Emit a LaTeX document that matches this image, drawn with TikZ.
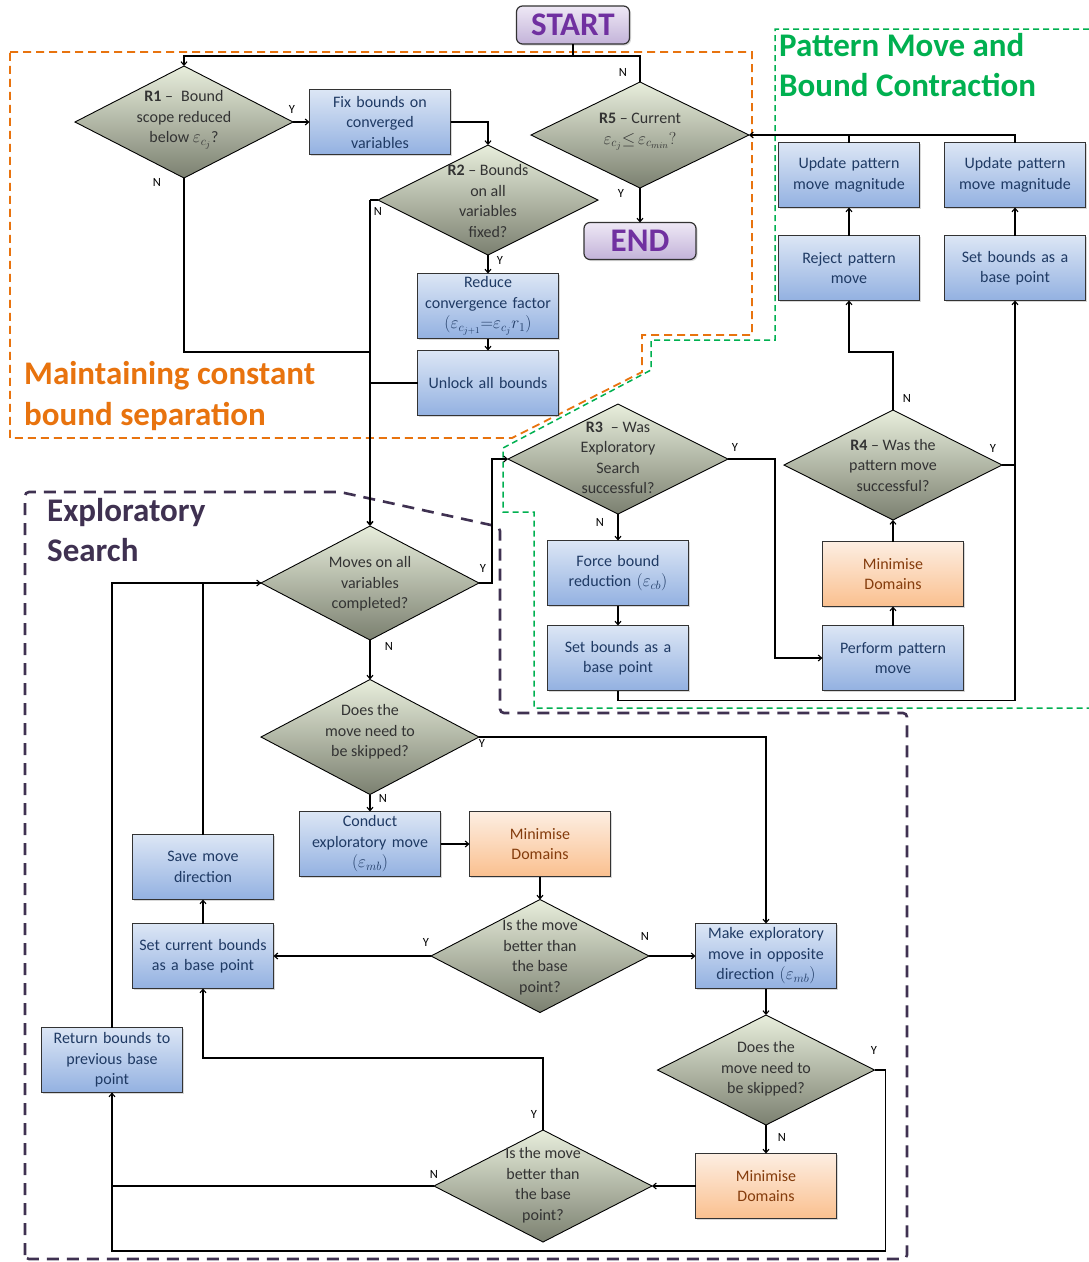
\documentclass[tikz,border=0pt]{standalone}
\usepackage{fontspec}
\setmainfont{Carlito}
\usetikzlibrary{shapes.geometric,arrows.meta,shadows}

\definecolor{boxtop}{HTML}{DCE6F5}
\definecolor{boxbot}{HTML}{93B1E1}
\definecolor{boxtxt}{HTML}{1F3A64}
\definecolor{dtop}{HTML}{E8EEDC}
\definecolor{dbot}{HTML}{7B8070}
\definecolor{dtxt}{HTML}{333333}
\definecolor{otop}{HTML}{FDEEE2}
\definecolor{obot}{HTML}{FAC08F}
\definecolor{otxt}{HTML}{843C0C}
\definecolor{ptop}{HTML}{EEE8F5}
\definecolor{pbot}{HTML}{C3B3D9}
\definecolor{ptxt}{HTML}{7030A0}
\definecolor{orng}{HTML}{E8730E}
\definecolor{grn}{HTML}{00B050}
\definecolor{purp}{HTML}{3F3151}
\definecolor{edgec}{HTML}{333333}

% inline formulas set a little larger than the surrounding text
\newcommand\fml[1]{{\fontsize{18.5}{20.5}\selectfont$#1$}}

\pgfdeclarelayer{bg}
\pgfsetlayers{bg,main}

\begin{document}
\begin{tikzpicture}[x=1pt,y=-1pt,
  bodyfont/.style={font=\fontsize{16}{20.5}\selectfont},
  procbox/.style={draw=edgec,line width=1.1pt,top color=boxtop,bottom color=boxbot,
     minimum width=141pt,minimum height=65pt,inner sep=0pt,outer sep=0pt,
     text width=139pt,align=center,text=boxtxt,bodyfont,
     drop shadow={shadow xshift=1.5pt,shadow yshift=-1.5pt,opacity=0.3}},
  minbox/.style={procbox,top color=otop,bottom color=obot,text=otxt},
  decision/.style={diamond,draw=black,line width=0.9pt,top color=dtop,bottom color=dbot,
     minimum width=218pt,minimum height=112pt,inner sep=0pt,outer sep=0pt},
  dtext/.style={align=center,bodyfont,text=dtxt,inner sep=0pt},
  term/.style={rounded corners=6pt,draw=edgec,line width=1.2pt,top color=ptop,bottom color=pbot,
     text=ptxt,font=\fontsize{33}{36}\selectfont\bfseries,minimum width=113pt,
     minimum height=38pt,inner sep=0pt,outer sep=0pt,
     drop shadow={shadow xshift=1.5pt,shadow yshift=-1.5pt,opacity=0.3}},
  yn/.style={font=\fontsize{12.5}{12.5}\selectfont,inner sep=0pt},
  conn/.style={line width=1.1pt,black},
  arr/.style={conn,-{Straight Barb[length=3.5pt,width=6pt]}},
  region/.style={font=\fontsize{33}{40.5}\selectfont\bfseries,align=left,anchor=west,inner sep=0pt},
  frameO/.style={orng,line width=1.8pt,dash pattern=on 8pt off 5pt},
  frameG/.style={grn,line width=1.5pt,dash pattern=on 6pt off 4pt},
  frameP/.style={purp,line width=2.6pt,dash pattern=on 12pt off 8pt,rounded corners=4pt},
]
\useasboundingbox (0,0) rectangle (1089,1262);

% ---- terminals ----
\node[term] (start) at (573,25) {START};
\node[term,minimum width=112pt,minimum height=37pt] (end) at (640,241) {END};

% ---- decisions ----
\node[decision] (r1) at (184,122) {};
\node[dtext] (r1t) at (184,120) {\textbf{R1} --\enspace Bound\\scope reduced\\below \fml{\varepsilon_{c_j}}?};
\node[decision,minimum width=220pt,minimum height=110pt] (r2) at (488,200) {};
\node[dtext] (r2t) at (488,201) {\textbf{R2} -- Bounds\\on all\\variables\\fixed?};
\node[decision,minimum height=106pt] (r5) at (640,135) {};
\node[dtext] (r5t) at (640,132) {\textbf{R5} -- Current\\\fml{\varepsilon_{c_j}{\le}\,\varepsilon_{c_{min}}?}};
\node[decision,minimum width=220pt,minimum height=110pt] (r3) at (618,459) {};
\node[dtext] (r3t) at (618,458) {\textbf{R3}\enspace -- Was\\Exploratory\\Search\\successful?};
\node[decision,minimum height=110pt] (r4) at (893,465) {};
\node[dtext] (r4t) at (893,465) {\textbf{R4} -- Was the\\pattern move\\successful?};
\node[decision,minimum height=114pt] (moves) at (370,583) {};
\node[dtext] (movest) at (370,584) {Moves on all\\variables\\completed?};
\node[decision,minimum height=115pt] (skip1) at (370,737) {};
\node[dtext] (skip1t) at (370,732) {Does the\\move need to\\be skipped?};
\node[decision,minimum height=113pt] (better1) at (540,956) {};
\node[dtext] (better1t) at (540,957) {Is the move\\better than\\the base\\point?};
\node[decision,minimum width=217pt,minimum height=110pt] (skip2) at (766,1070) {};
\node[dtext] (skip2t) at (766,1069) {Does the\\move need to\\be skipped?};
\node[decision] (better2) at (543,1186) {};
\node[dtext] (better2t) at (543,1185) {Is the move\\better than\\the base\\point?};

% ---- process boxes ----
\node[procbox] (fix) at (380,122) {Fix bounds on\\converged\\variables};
\node[procbox] (reduce) at (488,306) {Reduce\\convergence factor\\\fml{(\varepsilon_{c_{j+1}}{=}\varepsilon_{c_j}r_1)}};
\node[procbox] (unlock) at (488,383) {Unlock all bounds};
\node[procbox] (upd1) at (849,175) {Update pattern\\move magnitude};
\node[procbox] (upd2) at (1015,175) {Update pattern\\move magnitude};
\node[procbox] (reject) at (849,268) {Reject pattern\\move};
\node[procbox] (setb1) at (1015,268) {Set bounds as a\\base point};
\node[procbox] (force) at (618,573) {Force bound\\reduction \fml{(\varepsilon_{cb})}};
\node[procbox] (setb2) at (618,658) {Set bounds as a\\base point};
\node[minbox] (min1) at (893,574) {Minimise\\Domains};
\node[procbox] (perform) at (893,658) {Perform pattern\\move};
\node[procbox] (conduct) at (370,844) {Conduct\\exploratory move\\\fml{(\varepsilon_{mb})}};
\node[minbox] (min2) at (540,844) {Minimise\\Domains};
\node[procbox] (save) at (203,867) {Save move\\direction};
\node[procbox] (setcur) at (203,956) {Set current bounds\\as a base point};
\node[procbox] (make) at (766,956) {Make exploratory\\move in opposite\\direction \fml{(\varepsilon_{mb})}};
\node[procbox] (ret) at (112,1060) {Return bounds to\\previous base\\point};
\node[minbox] (min3) at (766,1186) {Minimise\\Domains};

% ---- region titles ----
\node[region,text=orng] (titleA) at (24,396) {Maintaining constant\\bound separation};
\node[region,text=grn] (titleB) at (779,65) {Pattern Move and\\Bound Contraction};
\node[region,text=purp] (titleC) at (47,530) {Exploratory\\Search};

% ---- connectors ----
\coordinate (bus) at (573,56);
\coordinate (trunk) at (370,200);
\coordinate (j1) at (370,352);
\draw[conn] (start.south) -- (bus);
\draw[arr] (r5.north) |- (bus) -| (r1.north);
\draw[arr] (r1.east) -- (fix.west);
\draw[arr] (fix.east) -| (r2.north);
\draw[arr] (r2.south) -- (reduce.north);
\draw[arr] (reduce.south) -- (unlock.north);
\draw[conn] (r2.west) -- (trunk);
\draw[arr,line width=1.5pt] (trunk) -- (moves.north);
\draw[conn] (r1.south) |- (j1);
\draw[conn] (unlock.west) -- (unlock.west -| trunk);
\draw[arr] (r5.south) -- (end.north);

\draw[arr] (upd2.north) |- (r5.east);
\draw[conn] (upd1.north) -- (upd1.north |- r5.east);
\draw[arr] (reject.north) -- (upd1.south);
\draw[arr] (setb1.north) -- (upd2.south);
\draw[arr] (r4.north) -- ++(0,-58) -| (reject.south);
\draw[arr] (r4.east) -| (setb1.south);
\draw[conn] (setb2.south) -- ++(0,10) -| (r4.east -| setb1.south);
\draw[arr] (min1.north) -- (r4.south);
\draw[arr] (perform.north) -- (min1.south);
\draw[arr] (r3.east) -- ++(47,0) |- (perform.west);
\draw[arr] (r3.south) -- (force.north);
\draw[arr] (force.south) -- (setb2.north);

\draw[arr] (moves.east) -- ++(13,0) |- (r3.west);
\draw[arr] (moves.south) -- (skip1.north);
\draw[arr] (skip1.south) -- (conduct.north);
\draw[arr] (skip1.east) -| (make.north);
\draw[arr] (conduct.east) -- (min2.west);
\draw[arr] (min2.south) -- (better1.north);
\draw[arr] (better1.west) -- (setcur.east);
\draw[arr] (better1.east) -- (make.west);
\draw[arr] (setcur.north) -- (save.south);
\draw[arr] (save.north) |- (moves.west);
\draw[conn] (ret.north) |- (moves.west);
\draw[arr] (make.south) -- (skip2.north);
\draw[arr] (skip2.south) -- (min3.north);
\draw[arr] (skip2.east) -- ++(11,0) -- ++(0,181) -| (ret.south);
\draw[arr] (min3.west) -- (better2.east);
\draw[arr] (better2.north) -- ++(0,-72) -| (setcur.south);
\draw[conn] (better2.west) -| (ret.south);

% ---- Y / N labels ----
\node[yn] (n1) at (623,72) {N};
\node[yn] (n2) at (292,109) {Y};
\node[yn] (n3) at (157,182) {N};
\node[yn] (n4) at (378,211) {N};
\node[yn] (n5) at (500,260) {Y};
\node[yn] (n6) at (621,193) {Y};
\node[yn] (n7) at (907,398) {N};
\node[yn] (n8) at (993,448) {Y};
\node[yn] (n9) at (735,447) {Y};
\node[yn] (n10) at (600,522) {N};
\node[yn] (n11) at (483,568) {Y};
\node[yn] (n12) at (389,646) {N};
\node[yn] (n13) at (482,743) {Y};
\node[yn] (n14) at (383,798) {N};
\node[yn] (n15) at (426,942) {Y};
\node[yn] (n16) at (645,936) {N};
\node[yn] (n17) at (874,1050) {Y};
\node[yn] (n18) at (782,1137) {N};
\node[yn] (n19) at (534,1114) {Y};
\node[yn] (n20) at (434,1174) {N};

% ---- white page and dashed group frames, behind everything ----
\begin{pgfonlayer}{bg}
\fill[white] (0,0) rectangle (1089,1262);
\draw[frameO]
  (10,52) -- (752,52) -- (752,335) -- (642,335) -- (642,372) -- (512,438) -- (10,438) -- cycle;
\draw[frameG]
  (1089,29) -- (775,29) -- (775,340) -- (651,340) -- (651,370) -- (503,448)
  -- (503,512) -- (534,512) -- (534,708) -- (1089,708);
\draw[frameP]
  (25,1259) -- (25,492) -- (340,492) -- (500,527) -- (500,713) -- (907,713) -- (907,1259) -- cycle;
\end{pgfonlayer}
\end{tikzpicture}
\end{document}
